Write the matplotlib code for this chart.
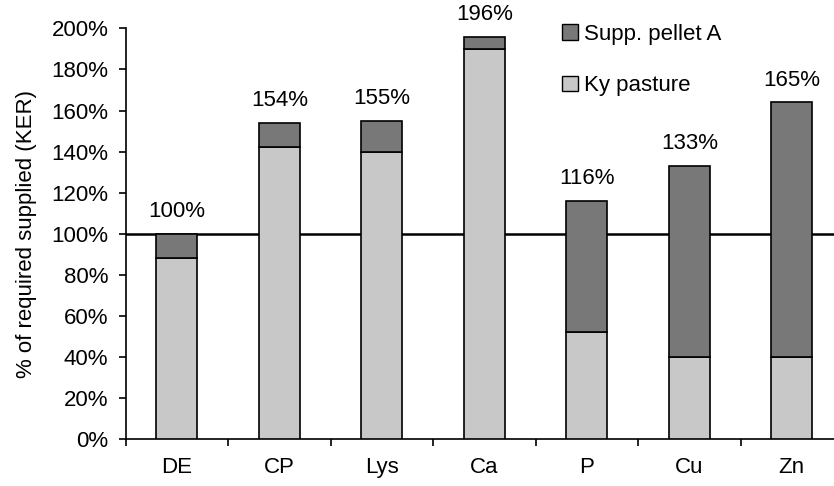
import matplotlib.pyplot as plt
from matplotlib.patches import Patch

plt.rcParams["font.family"] = ["Liberation Sans", "DejaVu Sans"]

nutrients = ["DE", "CP", "Lys", "Ca", "P", "Cu", "Zn"]
pasture = [88, 142, 140, 190, 52, 40, 40]
totals = [100, 154, 155, 196, 116, 133, 164]
total_labels = ["100%", "154%", "155%", "196%", "116%", "133%", "165%"]
supplement = [t - p for t, p in zip(totals, pasture)]

light = "#c8c8c8"
dark = "#787878"
fs = 16

fig = plt.figure(figsize=(8.34, 4.86), dpi=100)
ax = fig.add_axes([125.7 / 834, 1 - 439 / 486, (843 - 125.7) / 834, (439 - 28.4) / 486])

x = list(range(len(nutrients)))
ax.bar(x, pasture, width=0.4, color=light, edgecolor="black", linewidth=1.2, zorder=3)
ax.bar(x, supplement, width=0.4, bottom=pasture, color=dark, edgecolor="black",
       linewidth=1.2, zorder=3)
ax.axhline(100, color="black", linewidth=1.8, zorder=2)

for xi, t, lab in zip(x, totals, total_labels):
    ax.annotate(lab, (xi, t), xytext=(0, 16), textcoords="offset points",
                ha="center", va="center", fontsize=fs, annotation_clip=False)

ax.set_xlim(-0.5, len(nutrients) - 0.5)
ax.set_ylim(0, 200)
ax.set_yticks(range(0, 201, 20))
ax.set_yticklabels([f"{v}%" for v in range(0, 201, 20)])
ax.set_xticks(x)
ax.set_xticklabels(nutrients)
ax.set_xticks([i - 0.5 for i in range(len(nutrients) + 1)], minor=True)
ax.tick_params(axis="x", which="major", length=0, pad=13, labelsize=fs)
ax.tick_params(axis="x", which="minor", length=5, width=1.2, direction="out")
ax.tick_params(axis="y", length=5, width=1.2, direction="out", labelsize=fs, pad=7.5)
ax.set_ylabel("% of required supplied (KER)", fontsize=fs, labelpad=10)

for side in ["top", "right"]:
    ax.spines[side].set_visible(False)
for side in ["left", "bottom"]:
    ax.spines[side].set_linewidth(1.2)

handles = [Patch(facecolor=dark, edgecolor="black", label="Supp. pellet A"),
           Patch(facecolor=light, edgecolor="black", label="Ky pasture")]
fig.legend(handles=handles, loc="upper left", bbox_to_anchor=(562 / 834, 1 - 24 / 486),
           frameon=False, fontsize=fs, handlelength=0.7, handleheight=0.7,
           handletextpad=0.3, labelspacing=1.36, borderaxespad=0, borderpad=0)

fig.savefig("out.png", dpi=100)
